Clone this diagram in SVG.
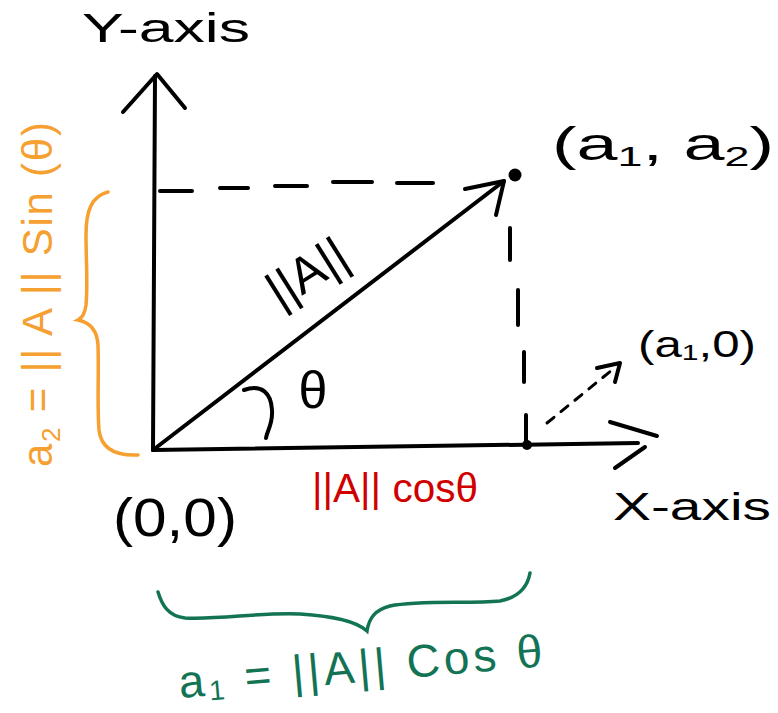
<svg xmlns="http://www.w3.org/2000/svg" width="778" height="713" viewBox="0 0 778 713">
<style>
.ink{fill:none;stroke:#000;stroke-width:4;stroke-linecap:round;stroke-linejoin:round}
.dash{fill:none;stroke:#000;stroke-width:4;stroke-linecap:round}
.thin{fill:none;stroke:#000;stroke-width:3;stroke-linecap:round;stroke-dasharray:9 9}
.lbl{font-family:"Liberation Sans","DejaVu Sans",sans-serif;fill:#000}
.org{fill:none;stroke:#F5A030;stroke-width:3.5;stroke-linecap:round}
.grn{fill:none;stroke:#137355;stroke-width:3.5;stroke-linecap:round}
</style>
<rect width="778" height="713" fill="#fff"/>
<g id="connectors">
  <g id="y-axis-line">
    <path class="ink" d="M153,450 L155,76"/>
    <path class="ink" d="M123,112 L157,74 L185,108"/>
  </g>
  <g id="x-axis-line">
    <path class="ink" d="M153,450 L638,443"/>
    <path class="ink" d="M610,422 L657,436 M645,447 L615,468"/>
  </g>
  <g id="vector-A">
    <path class="ink" d="M153,450 L504,181"/>
    <path class="ink" d="M465,189 L504,181 L496,215"/>
    <circle cx="515" cy="175" r="6.5" fill="#000"/>
  </g>
  <g id="proj-y-dashes">
    <path class="dash" d="M160,191 L192,191 M220,188 L248,188 M275,186 L307,186 M333,182 L372,182 M397,183 L433,183"/>
  </g>
  <g id="proj-x-dashes">
    <path class="dash" d="M510,228 L510,260 M518,290 L518,325 M524,352 L524,382 M526,415 L526,445"/>
    <circle cx="527" cy="445" r="5" fill="#000"/>
  </g>
  <g id="pointer-a1-0">
    <path class="thin" d="M547,423 L612,370"/>
    <path class="ink" d="M597,368 L620,363 L615,382"/>
  </g>
  <g id="angle-arc">
    <path class="ink" d="M244,390 C262,384 271,393 272,410 C273,424 267,431 266,438"/>
  </g>
</g>
<g id="label-y-axis"><text class="lbl" x="82" y="42" font-size="40" textLength="168" lengthAdjust="spacingAndGlyphs">Y-axis</text></g>
<g id="label-x-axis"><text class="lbl" x="613" y="520" font-size="38" textLength="158" lengthAdjust="spacingAndGlyphs">X-axis</text></g>
<g id="label-origin"><text class="lbl" x="113" y="536" font-size="54" textLength="124" lengthAdjust="spacingAndGlyphs">(0,0)</text></g>
<g id="label-a1a2"><text class="lbl" x="552" y="160" font-size="46" textLength="222" lengthAdjust="spacingAndGlyphs">(a<tspan font-size="28" dy="6">1</tspan><tspan dy="-6">, a</tspan><tspan font-size="28" dy="6">2</tspan><tspan dy="-6">)</tspan></text></g>
<g id="label-a1-0"><text class="lbl" x="638" y="357" font-size="36" textLength="118" lengthAdjust="spacingAndGlyphs">(a<tspan font-size="22" dy="3">1</tspan><tspan dy="-3">,0)</tspan></text></g>
<g id="label-norm"><text class="lbl" transform="translate(316,287) rotate(-32)" x="0" y="0" font-size="50" text-anchor="middle">||A||</text></g>
<g id="label-theta"><text class="lbl" x="313" y="408" font-size="52" text-anchor="middle">θ</text></g>
<g id="label-cos"><text x="312" y="502" font-size="40" textLength="166" lengthAdjust="spacingAndGlyphs" font-family="Liberation Sans, DejaVu Sans, sans-serif" fill="#D00000">||A|| cosθ</text></g>
<g id="brace-a2">
  <path class="org" d="M108,192 C92,196 86,210 86,235 C86,260 88,285 86,305 C85,313 82,318 78,320 C88,322 97,328 98,345 C99,375 97,405 99,430 C101,448 115,456 138,455"/>
</g>
<g id="label-a2"><text transform="translate(52,467) rotate(-90)" x="0" y="0" font-size="42" textLength="345" lengthAdjust="spacing" font-family="Liberation Sans, DejaVu Sans, sans-serif" fill="#F5A030">a<tspan font-size="26" dy="8">2</tspan><tspan dy="-8"> = || A || Sin (θ)</tspan></text></g>
<g id="brace-a1">
  <path class="grn" d="M158,592 C162,605 168,616 185,618 C220,620 260,612 300,614 C330,616 355,620 367,631 C369,618 375,610 390,606 C420,600 470,604 500,601 C515,598 527,590 530,573"/>
</g>
<g id="label-a1"><text transform="translate(180,698) rotate(-5)" x="0" y="0" font-size="46" textLength="365" lengthAdjust="spacing" font-family="Liberation Sans, DejaVu Sans, sans-serif" fill="#137355">a<tspan font-size="28" dy="5">1</tspan><tspan dy="-5"> = ||A|| Cos θ</tspan></text></g>
</svg>
